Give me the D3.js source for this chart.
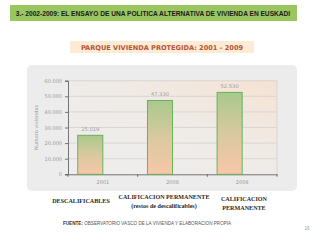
<!DOCTYPE html>
<html>
<head>
<meta charset="utf-8">
<script src="https://cdn.jsdelivr.net/npm/d3@7"></script>
<style>
  body { margin: 0; background: #fff; }
  svg { display: block; }
</style>
</head>
<body>
<svg id="chart" width="320" height="240"></svg>
<script>
// chart values
var years = ["2001", "2008", "2009"];
var viviendas = [25019, 47330, 52530];
var valueLabels = ["25.019", "47.330", "52.530"];
var yTicks = [0, 10000, 20000, 30000, 40000, 50000, 60000];
var captions = [["DESCALIFICABLES"], ["CALIFICACION PERMANENTE", "(restos de descalificables)"], ["CALIFICACION", "PERMANENTE"]];

var svg = d3.select("#chart");
var defs = svg.append("defs");

// plot background goes gray -> peach
var bg = defs.append("linearGradient").attr("id", "plotbg")
    .attr("x1", "0").attr("y1", "1").attr("x2", "1").attr("y2", "0");
bg.append("stop").attr("offset", "0").attr("stop-color", "#eeeeee");
bg.append("stop").attr("offset", "0.55").attr("stop-color", "#efebe7");
bg.append("stop").attr("offset", "1").attr("stop-color", "#f5e2d2");

var barg = defs.append("linearGradient").attr("id", "bargrad")
    .attr("x1", "0").attr("y1", "0").attr("x2", "0").attr("y2", "1");
barg.append("stop").attr("offset", "0").attr("stop-color", "#a8c98c");
barg.append("stop").attr("offset", "0.5").attr("stop-color", "#d9c9a0");
barg.append("stop").attr("offset", "1").attr("stop-color", "#f7c7a8");

// header bar
svg.append("rect").attr("x", 10).attr("y", 5).attr("width", 287).attr("height", 16)
    .attr("fill", "#9bc55e");
svg.append("text").attr("x", 153).attr("y", 16).attr("text-anchor", "middle")
    .attr("font-family", "Liberation Sans, Arial, sans-serif").attr("font-weight", "bold")
    .attr("font-size", 6.6).attr("fill", "#1a1a1a")
    .text("3.- 2002-2009: EL ENSAYO DE UNA POLITICA ALTERNATIVA DE VIVIENDA EN EUSKADI");

// subtitle
svg.append("rect").attr("x", 70).attr("y", 41).attr("width", 184).attr("height", 12)
    .attr("fill", "#fdebd3");
svg.append("text").attr("x", 162).attr("y", 49.5).attr("text-anchor", "middle")
    .attr("font-family", "DejaVu Sans, sans-serif").attr("font-weight", "bold")
    .attr("font-size", 6.6).attr("fill", "#b5533c")
    .text("PARQUE VIVIENDA PROTEGIDA: 2001 - 2009");

// chart panel
svg.append("rect").attr("x", 27).attr("y", 65).attr("width", 270).attr("height", 126)
    .attr("rx", 5).attr("fill", "#ececec");

var margin = {left: 68, right: 277, top: 80.7, bottom: 174.3};
var x = d3.scaleBand().domain(years).range([margin.left, margin.right]);
var y = d3.scaleLinear().domain([0, 60000]).range([margin.bottom, margin.top]);

svg.append("rect").attr("x", margin.left).attr("y", margin.top)
    .attr("width", margin.right - margin.left).attr("height", margin.bottom - margin.top)
    .attr("fill", "url(#plotbg)");

// gridlines
svg.append("g").selectAll("line").data(yTicks.slice(1)).join("line")
    .attr("x1", margin.left).attr("x2", margin.right)
    .attr("y1", function(d){ return y(d); }).attr("y2", function(d){ return y(d); })
    .attr("stroke", "#cfcfcf").attr("stroke-width", 0.7);
svg.append("line").attr("x1", margin.right).attr("x2", margin.right)
    .attr("y1", margin.top).attr("y2", margin.bottom)
    .attr("stroke", "#cfcfcf").attr("stroke-width", 0.7);

// y axis
var yAxis = svg.append("g").attr("transform", "translate(" + margin.left + ",0)")
    .call(d3.axisLeft(y).tickValues(yTicks).tickSize(3)
        .tickFormat(function(d){ return d3.format(",")(d).replace(/,/g, "."); }));
yAxis.select(".domain").attr("stroke", "#555").attr("stroke-width", 0.8);
yAxis.selectAll(".tick line").attr("stroke", "#555").attr("stroke-width", 0.8);
yAxis.selectAll("text").attr("font-family", "DejaVu Sans, sans-serif")
    .attr("font-size", 5).attr("fill", "#9a9a9a").attr("x", -6);

// x axis
var xAxis = svg.append("g").attr("transform", "translate(0," + margin.bottom + ")")
    .call(d3.axisBottom(x).tickSize(0));
xAxis.select(".domain").attr("stroke", "#555").attr("stroke-width", 0.8);
xAxis.selectAll("text").attr("font-family", "DejaVu Sans, sans-serif")
    .attr("font-size", 5).attr("fill", "#9a9a9a").attr("dy", "0.71em").attr("y", 6);
// small separator ticks between categories
svg.append("g").selectAll("line").data(years).join("line")
    .attr("x1", function(d){ return x(d); }).attr("x2", function(d){ return x(d); })
    .attr("y1", margin.bottom).attr("y2", margin.bottom + 2.5)
    .attr("stroke", "#555").attr("stroke-width", 0.8);
svg.append("line").attr("x1", margin.right).attr("x2", margin.right)
    .attr("y1", margin.bottom).attr("y2", margin.bottom + 2.5)
    .attr("stroke", "#555").attr("stroke-width", 0.8);

// y axis title
svg.append("text").attr("transform", "translate(38," + ((margin.top + margin.bottom) / 2) + ") rotate(-90)")
    .attr("text-anchor", "middle").attr("font-family", "DejaVu Sans, sans-serif")
    .attr("font-size", 5).attr("fill", "#a0a0a0").text("Numero viviendas");

// bars (sit left of the band centre, like the original)
var bw = x.bandwidth();
svg.append("g").selectAll("rect").data(viviendas).join("rect")
    .attr("x", function(d, i){ return x(years[i]) + bw * 0.14; })
    .attr("width", bw * 0.36)
    .attr("y", function(d){ return y(d); })
    .attr("height", function(d){ return y(0) - y(d); })
    .attr("fill", "url(#bargrad)").attr("stroke", "#5fae4e").attr("stroke-width", 0.9);

svg.append("g").selectAll("text").data(viviendas).join("text")
    .attr("x", function(d, i){ return x(years[i]) + bw * 0.32; })
    .attr("y", function(d){ return y(d) - 4; })
    .attr("text-anchor", "middle").attr("font-family", "DejaVu Sans, sans-serif")
    .attr("font-size", 5.2).attr("fill", "#a0a0a0")
    .text(function(d, i){ return valueLabels[i]; });

// captions under the chart
var capX = [81, 164, 244];
var capY = [[203], [199, 208], [201, 210]];
captions.forEach(function(lines, i){
    lines.forEach(function(t, j){
        svg.append("text").attr("x", capX[i]).attr("y", capY[i][j])
            .attr("text-anchor", "middle")
            .attr("font-family", "Liberation Serif, Times New Roman, serif")
            .attr("font-weight", "bold").attr("font-size", 6.1).attr("fill", "#2a2a2a")
            .text(t);
    });
});

// source line
var src = svg.append("text").attr("x", 63).attr("y", 225)
    .attr("font-family", "Liberation Sans, Arial, sans-serif").attr("font-size", 4.6).attr("fill", "#333");
src.append("tspan").attr("font-weight", "bold").text("FUENTE:");
src.append("tspan").attr("fill", "#555").text(" OBSERVATORIO VASCO DE LA VIVIENDA Y ELABORACION PROPIA");

svg.append("text").attr("x", 307).attr("y", 230).attr("text-anchor", "middle")
    .attr("font-family", "Liberation Sans, Arial, sans-serif").attr("font-size", 4.6)
    .attr("fill", "#999").text("16");
</script>
</body>
</html>
